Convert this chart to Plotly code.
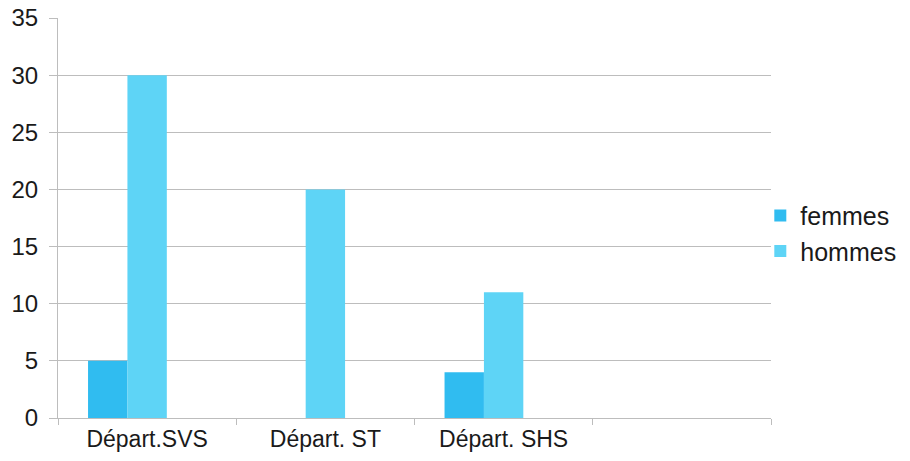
import plotly.graph_objects as go

# Departments (the fourth slot on the axis is left empty)
categories = ["Départ.SVS", "Départ. ST", "Départ. SHS", " "]
femmes = [5, 0, 4]
hommes = [30, 20, 11]
y_ticks = [0, 5, 10, 15, 20, 25, 30, 35]

FONT = "Liberation Sans, Arial, sans-serif"
GRID = "#BDBDBD"

fig = go.Figure()
fig.add_bar(name="femmes", x=categories[:3], y=femmes,
            marker=dict(color="#30BCF0", line=dict(width=0)))
fig.add_bar(name="hommes", x=categories[:3], y=hommes,
            marker=dict(color="#5ED4F6", line=dict(width=0)))
# empty third series keeps the third slot of each group free
fig.add_bar(name="", x=categories[:3], y=[None, None, None],
            showlegend=False, hoverinfo="skip")

fig.update_layout(
    width=910, height=461,
    margin=dict(l=58, r=139, t=18, b=43, autoexpand=False),
    paper_bgcolor="white", plot_bgcolor="white",
    barmode="group", bargap=0.337, bargroupgap=0,
    font=dict(family=FONT, size=24, color="#1a1a1a"),
    legend=dict(x=0.985, xanchor="left", y=0.462, yanchor="middle",
                font=dict(size=25), itemwidth=30, tracegroupgap=0,
                bgcolor="rgba(0,0,0,0)"),
    showlegend=True,
)
fig.update_xaxes(
    type="category", categoryorder="array", categoryarray=categories,
    range=[-0.5, 3.5], tickson="boundaries", ticks="outside", ticklen=6,
    tickcolor=GRID, showline=True, linecolor=GRID, linewidth=1,
    showgrid=False, tickfont=dict(size=23), automargin=False,
)
fig.update_yaxes(
    range=[0, 35], tickvals=y_ticks, ticks="outside", ticklen=8,
    tickcolor=GRID, showline=True, linecolor=GRID, linewidth=1,
    showgrid=True, gridcolor=GRID, gridwidth=1, zeroline=False,
    tickfont=dict(size=24), ticklabelstandoff=6, automargin=False,
)

fig.write_html("out.html")
